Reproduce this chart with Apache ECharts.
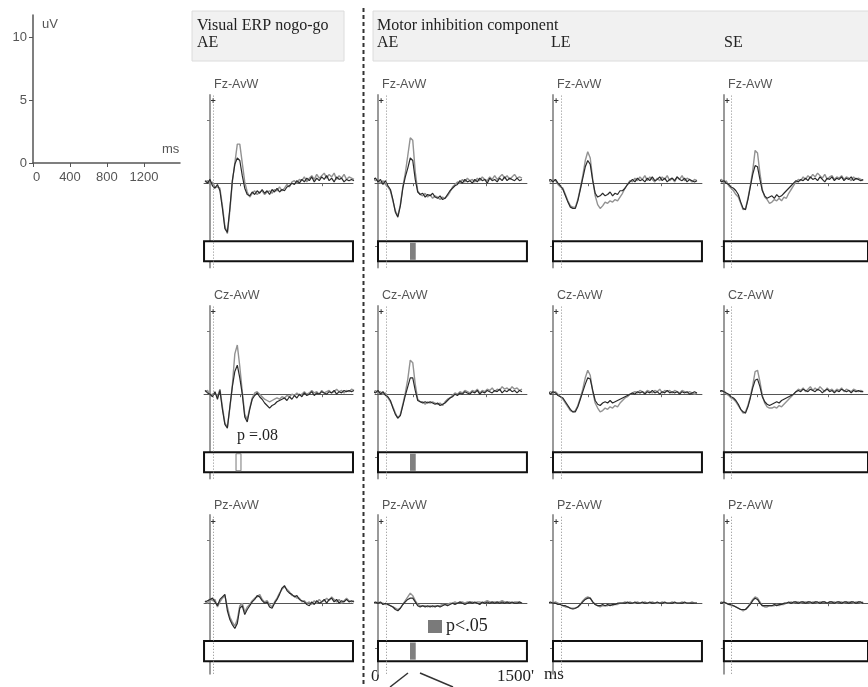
<!DOCTYPE html>
<html><head><meta charset="utf-8">
<script src="https://cdn.jsdelivr.net/npm/echarts@6/dist/echarts.min.js"></script>
<style>html,body{margin:0;padding:0;background:#fff}#chart{width:868px;height:687px}</style>
</head><body><div id="chart"></div>
<script>
// ---- data ----
const times = [-50,-25,0,25,50,75,100,125,150,175,200,225,250,275,300,325,350,375,400,425,450,475,500,525,550,575,600,625,650,675,700,725,750,775,800,825,850,875,900,925,950,975,1000,1025,1050,1075,1100,1125,1150,1175,1200,1225,1250,1275,1300,1325,1350,1375,1400,1425,1450];
const channelTitles = ['Fz-AvW','Cz-AvW','Pz-AvW'];
const columnHeaders = ['AE','AE','LE','SE'];
const scaleYTicks = [0,5,10];
const scaleXTicks = [0,400,800,1200];

// Fz
const fzVisualDark = [0.2,0.0,0.3,-0.2,-0.4,-0.1,-0.6,-2.0,-3.6,-3.9, -2.0,0.2,1.5,2.0,1.8,0.6,-0.4,-0.9,-1.0,-0.7, -0.9,-0.6,-0.8,-0.5,-0.8,-0.6,-0.9,-0.5,-0.7,-0.4, -0.7,-0.5,-0.6,-0.3,-0.2,0.0,-0.1,0.2,0.0,0.3, 0.1,0.4,0.2,0.5,0.1,0.4,0.2,0.5,0.3,0.6, 0.2,0.4,0.1,0.5,0.3,0.4,0.1,0.3,0.2,0.3, 0.2];
const fzVisualLight = [0.1,0.2,-0.1,0.1,-0.3,-0.3,-0.4,-1.8,-3.4,-4.0, -2.2,0.1,1.6,3.1,3.1,1.6,0.1,-0.7,-1.1,-0.8, -0.6,-0.9,-0.7,-0.6,-0.9,-0.7,-0.6,-0.8,-0.5,-0.6, -0.3,-0.6,-0.4,-0.1,-0.3,0.1,0.2,0.0,0.3,0.2, 0.5,0.1,0.4,0.6,0.3,0.7,0.4,0.6,0.8,0.4, 0.7,0.5,0.8,0.3,0.6,0.4,0.7,0.3,0.5,0.4, 0.3];
const fzAEDark = [0.3,0.4,0.1,0.3,-0.1,0.2,-0.2,-0.5,-1.3,-2.3, -2.7,-1.8,-0.4,0.5,1.2,2.0,1.8,0.3,-0.7,-0.9, -0.8,-1.1,-0.9,-1.0,-0.8,-1.1,-1.2,-1.0,-1.3,-1.2, -0.9,-0.6,-0.4,-0.2,-0.1,0.2,0.0,0.3,0.1,0.2, 0.0,0.3,0.1,0.4,0.2,0.3,0.0,0.4,0.2,0.3, 0.1,0.4,0.2,0.5,0.2,0.4,0.3,0.2,0.4,0.2, 0.3];
const fzAELight = [0.4,0.2,0.3,0.0,0.2,-0.1,-0.3,-0.6,-1.4,-2.2, -2.6,-1.7,-0.3,0.8,2.2,3.6,3.4,0.9,-0.6,-0.9, -1.0,-0.8,-1.1,-0.9,-1.2,-1.0,-1.1,-1.3,-1.1,-1.2, -1.0,-0.7,-0.3,-0.1,0.1,0.0,0.3,0.1,0.4,0.2, 0.3,0.1,0.4,0.2,0.5,0.3,0.2,0.5,0.3,0.6, 0.3,0.5,0.7,0.4,0.6,0.3,0.5,0.7,0.4,0.5, 0.4];
const fzLEDark = [0.2,0.3,0.1,0.3,0.0,-0.2,-0.5,-1.0,-1.5,-1.9, -2.0,-2.0,-1.4,-0.5,0.4,1.3,1.8,1.5,0.2,-0.8, -1.1,-1.0,-0.8,-1.0,-0.9,-0.7,-1.0,-0.8,-0.9,-0.6, -0.6,-0.4,-0.1,0.1,0.3,0.1,0.4,0.2,0.3,0.1, 0.4,0.2,0.5,0.2,0.3,0.5,0.2,0.4,0.1,0.3, 0.4,0.2,0.5,0.3,0.2,0.4,0.1,0.3,0.2,0.1, 0.2];
const fzLELight = [0.3,0.1,0.3,0.2,-0.1,-0.3,-0.4,-0.9,-1.4,-1.8, -1.9,-1.9,-1.3,-0.4,0.6,1.8,2.5,2.0,0.3,-1.0, -1.7,-2.0,-1.8,-1.5,-1.6,-1.4,-1.5,-1.3,-1.4,-1.1, -0.8,-0.4,-0.1,0.2,0.1,0.4,0.2,0.5,0.3,0.6, 0.2,0.5,0.3,0.1,0.4,0.2,0.5,0.3,0.6,0.2, 0.4,0.1,0.5,0.3,0.6,0.2,0.4,0.3,0.1,0.3, 0.2];
const fzSEDark = [0.3,0.1,0.2,0.0,-0.1,-0.3,-0.4,-0.6,-0.9,-1.5, -2.0,-2.1,-1.3,-0.3,0.7,1.4,1.3,0.3,-0.6,-1.0, -1.2,-1.1,-1.0,-1.2,-0.9,-1.1,-1.0,-0.8,-0.6,-0.4, -0.2,0.0,0.2,0.1,0.3,0.2,0.4,0.2,0.5,0.3, 0.4,0.2,0.5,0.3,0.1,0.4,0.3,0.5,0.2,0.4, 0.3,0.5,0.2,0.4,0.3,0.5,0.2,0.4,0.3,0.2, 0.3];
const fzSELight = [0.2,0.3,0.0,0.2,-0.2,-0.4,-0.6,-0.9,-1.1,-1.6, -2.1,-2.0,-1.2,-0.2,1.0,2.6,2.4,0.8,-0.5,-1.1, -1.3,-1.6,-1.5,-1.3,-1.4,-1.2,-1.4,-1.1,-1.2,-0.8, -0.5,-0.2,0.1,0.3,0.2,0.5,0.3,0.6,0.4,0.7, 0.5,0.8,0.6,0.4,0.7,0.3,0.5,0.6,0.3,0.5, 0.4,0.6,0.3,0.5,0.4,0.2,0.5,0.3,0.4,0.3, 0.2];
// Cz
const czVisualDark = [0.3,0.1,0.0,-0.2,0.2,-0.4,0.3,-1.2,-2.4,-2.7, -1.0,0.6,1.8,2.3,1.3,0.0,-1.8,-2.2,-1.2,-0.4, -0.1,0.1,-0.2,-0.4,-0.7,-0.9,-1.1,-0.9,-0.8,-0.6, -0.5,-0.4,-0.3,-0.5,-0.2,-0.4,-0.1,-0.3,0.0,-0.2, 0.1,-0.1,0.0,0.2,-0.1,0.1,0.0,0.2,0.1,0.0, 0.2,0.1,0.3,0.0,0.2,0.1,0.3,0.2,0.3,0.2, 0.3];
const czVisualLight = [0.2,0.3,-0.1,0.0,0.1,-0.2,0.4,-1.0,-2.3,-2.6, -1.1,0.7,3.2,3.9,2.2,0.2,-1.6,-2.0,-1.1,-0.3, 0.1,0.2,0.0,-0.2,-0.4,-0.5,-0.6,-0.5,-0.4,-0.3, -0.4,-0.2,-0.3,-0.1,-0.2,0.0,-0.1,0.1,-0.1,0.0, 0.2,0.0,0.1,0.3,0.1,0.2,0.0,0.3,0.1,0.2, 0.3,0.1,0.2,0.4,0.2,0.3,0.1,0.3,0.2,0.4, 0.3];
const czAEDark = [0.2,0.1,0.3,0.0,0.2,-0.1,-0.2,-0.5,-1.1,-1.6, -1.9,-1.7,-0.9,-0.1,0.6,1.3,1.3,0.3,-0.5,-0.6, -0.7,-0.6,-0.7,-0.6,-0.7,-0.8,-0.7,-0.9,-0.8,-0.7, -0.5,-0.3,-0.2,0.0,-0.1,0.1,0.0,0.2,0.1,0.0, 0.2,0.1,0.3,0.0,0.2,0.1,0.3,0.2,0.1,0.3, 0.2,0.4,0.1,0.3,0.2,0.4,0.2,0.3,0.1,0.3, 0.2];
const czAELight = [0.1,0.3,0.1,0.2,0.0,0.1,-0.3,-0.6,-1.0,-1.5, -1.9,-1.6,-0.8,0.1,1.2,2.7,2.5,0.8,-0.4,-0.6, -0.6,-0.8,-0.6,-0.7,-0.6,-0.7,-0.8,-0.7,-0.9,-0.6, -0.4,-0.3,-0.1,0.1,0.0,0.2,0.1,0.3,0.2,0.1, 0.3,0.2,0.4,0.1,0.3,0.2,0.4,0.3,0.5,0.2, 0.4,0.3,0.6,0.4,0.5,0.3,0.6,0.4,0.5,0.3, 0.4];
const czLEDark = [0.2,0.0,0.2,0.1,-0.1,-0.2,-0.3,-0.6,-0.9,-1.2, -1.4,-1.4,-1.0,-0.4,0.2,0.8,1.3,1.2,0.3,-0.5, -0.8,-0.9,-0.7,-0.6,-0.7,-0.5,-0.7,-0.6,-0.5,-0.4, -0.3,-0.2,-0.1,0.0,0.1,0.0,0.2,0.1,0.2,0.0, 0.2,0.1,0.3,0.1,0.2,0.0,0.2,0.1,0.3,0.1, 0.2,0.1,0.2,0.0,0.2,0.1,0.2,0.0,0.1,0.2, 0.1];
const czLELight = [0.1,0.2,0.1,0.2,0.0,-0.2,-0.4,-0.7,-1.0,-1.3, -1.4,-1.3,-0.9,-0.3,0.4,1.3,1.9,1.5,0.2,-0.7, -1.1,-1.4,-1.3,-1.1,-1.2,-1.0,-1.1,-0.9,-1.0,-0.7, -0.5,-0.3,-0.2,0.0,0.1,0.2,0.1,0.3,0.2,0.1, 0.3,0.2,0.1,0.3,0.2,0.4,0.1,0.3,0.2,0.3, 0.1,0.3,0.2,0.1,0.3,0.2,0.1,0.2,0.1,0.0, 0.1];
const czSEDark = [0.2,0.3,0.2,0.1,0.0,-0.2,-0.3,-0.5,-0.8,-1.2, -1.4,-1.5,-1.0,-0.3,0.5,1.1,1.2,0.6,-0.2,-0.6, -0.8,-0.9,-0.8,-0.7,-0.6,-0.7,-0.5,-0.4,-0.3,-0.2, -0.1,0.0,0.2,0.3,0.2,0.4,0.3,0.2,0.4,0.3, 0.2,0.4,0.3,0.1,0.3,0.4,0.2,0.3,0.1,0.3, 0.2,0.4,0.3,0.2,0.3,0.1,0.3,0.2,0.3,0.2, 0.2];
const czSELight = [0.3,0.2,0.3,0.0,-0.1,-0.3,-0.4,-0.6,-0.9,-1.2, -1.5,-1.4,-0.9,-0.2,0.7,1.8,1.9,1.0,-0.1,-0.7, -1.0,-1.1,-1.1,-1.0,-1.1,-0.9,-1.0,-0.8,-0.6,-0.4, -0.2,0.0,0.2,0.4,0.3,0.5,0.2,0.4,0.6,0.3, 0.5,0.3,0.6,0.4,0.2,0.5,0.3,0.4,0.2,0.4, 0.3,0.5,0.2,0.4,0.3,0.2,0.4,0.3,0.2,0.3, 0.2];
// Pz
const pzVisualDark = [0.1,0.2,0.3,0.4,0.1,-0.2,0.3,0.5,0.7,-0.6, -1.3,-1.7,-2.0,-1.6,-0.4,-0.2,-0.9,-0.5,-0.2,0.1, 0.3,0.6,0.5,0.2,0.0,0.1,-0.3,-0.4,0.0,0.3, 0.7,1.2,1.4,1.0,0.8,0.7,0.5,0.6,0.3,0.2, 0.1,-0.1,-0.2,0.1,-0.1,0.2,0.0,0.1,0.3,0.0, 0.3,0.4,0.1,0.3,0.0,0.2,0.1,0.3,0.1,0.2, 0.1];
const pzVisualLight = [0.2,0.0,0.4,0.2,0.3,-0.3,0.1,0.4,0.6,-0.3, -1.1,-1.5,-1.8,-1.3,-0.2,0.0,-0.7,-0.3,-0.1,0.2, 0.4,0.5,0.7,0.3,0.1,0.2,-0.1,-0.3,0.1,0.4, 0.8,1.1,1.3,1.1,0.9,0.6,0.6,0.4,0.4,0.1, 0.2,0.0,0.1,-0.1,0.2,0.0,0.3,0.1,0.2,0.4, 0.2,0.5,0.3,0.1,0.3,0.0,0.2,0.4,0.2,0.1, 0.2];
const pzAEDark = [0.0,0.1,0.0,0.1,-0.1,0.0,-0.1,-0.2,-0.3,-0.5, -0.6,-0.4,-0.1,0.1,0.3,0.4,0.4,0.1,-0.2,-0.3, -0.2,-0.3,-0.2,-0.3,-0.2,-0.3,-0.2,-0.3,-0.2,-0.1, -0.2,-0.1,0.0,-0.1,0.0,0.1,0.0,-0.1,0.0,0.1, 0.0,0.1,0.0,-0.1,0.1,0.0,0.1,0.0,0.1,0.0, 0.1,0.0,0.1,0.0,0.1,0.0,0.1,0.0,0.0,0.1, 0.0];
const pzAELight = [0.1,0.0,0.1,0.0,0.0,-0.1,-0.1,-0.2,-0.3,-0.4, -0.5,-0.4,-0.1,0.2,0.5,0.8,0.6,0.2,-0.1,-0.2, -0.2,-0.2,-0.3,-0.2,-0.3,-0.2,-0.2,-0.2,-0.1,-0.1, -0.1,0.0,0.0,0.1,0.0,0.1,0.1,0.0,0.1,0.1, 0.1,0.0,0.1,0.1,0.0,0.1,0.2,0.1,0.1,0.1, 0.1,0.1,0.2,0.1,0.1,0.1,0.0,0.1,0.1,0.1, 0.0];
const pzLEDark = [0.0,0.1,0.0,0.0,-0.1,-0.1,-0.2,-0.2,-0.3,-0.4, -0.4,-0.4,-0.3,-0.1,0.1,0.3,0.4,0.4,0.1,-0.1, -0.2,-0.2,-0.1,-0.2,-0.1,-0.2,-0.1,-0.1,0.0,0.0, 0.0,0.0,0.1,0.0,0.0,0.1,0.0,0.0,0.1,0.0, 0.0,0.1,0.0,0.0,0.1,0.0,0.0,0.1,0.0,0.0, 0.0,0.1,0.0,0.0,0.0,0.1,0.0,0.0,0.0,0.0, 0.0];
const pzLELight = [0.1,0.0,0.0,0.1,0.0,-0.1,-0.2,-0.3,-0.3,-0.4, -0.5,-0.4,-0.3,-0.1,0.2,0.4,0.5,0.4,0.1,-0.1, -0.2,-0.3,-0.2,-0.2,-0.2,-0.1,-0.2,-0.1,-0.1,0.0, 0.0,0.1,0.0,0.1,0.0,0.0,0.1,0.0,0.0,0.1, 0.0,0.0,0.1,0.0,0.0,0.0,0.1,0.0,0.0,0.0, 0.1,0.0,0.0,0.0,0.1,0.0,0.0,0.0,0.1,0.0, 0.0];
const pzSEDark = [0.0,0.0,0.1,0.0,-0.1,-0.1,-0.2,-0.3,-0.4,-0.5, -0.5,-0.5,-0.3,-0.1,0.2,0.4,0.3,0.0,-0.2,-0.2, -0.2,-0.2,-0.2,-0.1,-0.2,-0.1,-0.1,0.0,0.0,0.1, 0.0,0.1,0.1,0.0,0.1,0.1,0.0,0.1,0.1,0.0, 0.1,0.1,0.0,0.1,0.1,0.0,0.1,0.1,0.0,0.1, 0.1,0.0,0.1,0.1,0.0,0.1,0.1,0.0,0.1,0.1, 0.0];
const pzSELight = [0.0,0.1,0.0,0.0,-0.1,-0.2,-0.2,-0.3,-0.4,-0.5, -0.6,-0.5,-0.3,0.0,0.3,0.5,0.4,0.1,-0.2,-0.3, -0.3,-0.2,-0.2,-0.2,-0.1,-0.2,-0.1,-0.1,0.0,0.0, 0.1,0.0,0.1,0.1,0.0,0.1,0.1,0.1,0.0,0.1, 0.1,0.0,0.1,0.1,0.1,0.0,0.1,0.1,0.1,0.0, 0.1,0.1,0.0,0.1,0.1,0.1,0.0,0.1,0.1,0.0, 0.1];

// significance windows (ms)
const sigWindowAE = [322, 380];     // p<.05
const trendWindowCz = [262, 312];   // p=.08

const panelData = [
  [[fzVisualDark, fzVisualLight], [fzAEDark, fzAELight], [fzLEDark, fzLELight], [fzSEDark, fzSELight]],
  [[czVisualDark, czVisualLight], [czAEDark, czAELight], [czLEDark, czLELight], [czSEDark, czSELight]],
  [[pzVisualDark, pzVisualLight], [pzAEDark, pzAELight], [pzLEDark, pzLELight], [pzSEDark, pzSELight]]
];

// ---- layout ----
const PX_MS = 0.0993, PX_UV = 12.6;
const colAxisX = [210, 378, 553, 724];
const colXMin = [-60, -30, -30, -30];
const colXMax = [1440, 1500, 1500, 1500];
const colBox = [[-60, 1440], [0, 1500], [0, 1500], [0, 1500]];
const colOnset = [35, 80, 80, 80];
const colXTicks = [[300, 1130], [350, 1090], [350, 1090], [350, 1090]];
const rowTop = [95, 306, 515];
const rowYMin = [-6.7, -6.7, -5.6];
const rowBoxY = [[-4.6, -6.2], [-4.6, -6.2], [-3.0, -4.6]];
const rowYTicks = [[5, -5], [5, -5], [5, -3.6]];
const rowTitleY = [85, 296, 506];
const Y_MAX = 7;

const grids = [], xAxes = [], yAxes = [], series = [], graphics = [];

for (let r = 0; r < 3; r++) {
  for (let c = 0; c < 4; c++) {
    const gi = grids.length;
    const left = colAxisX[c] + colXMin[c] * PX_MS;
    grids.push({left: left, top: rowTop[r], width: (colXMax[c] - colXMin[c]) * PX_MS, height: (Y_MAX - rowYMin[r]) * PX_UV});
    xAxes.push({type: 'value', gridIndex: gi, min: colXMin[c], max: colXMax[c],
      axisLine: {onZero: true, lineStyle: {color: '#555', width: 1}},
      axisTick: {show: true, customValues: colXTicks[c], length: 3, lineStyle: {color: '#666'}},
      axisLabel: {show: false}, splitLine: {show: false}});
    yAxes.push({type: 'value', gridIndex: gi, min: rowYMin[r], max: Y_MAX,
      axisLine: {onZero: true, lineStyle: {color: '#9a9a9a', width: 2}},
      axisTick: {show: true, customValues: rowYTicks[r], length: 3, lineStyle: {color: '#777'}},
      axisLabel: {show: false}, splitLine: {show: false}});
    const [dark, light] = panelData[r][c];
    const by = rowBoxY[r];
    const areas = [[{xAxis: colBox[c][0], yAxis: by[0], itemStyle: {color: '#fff', borderColor: '#111', borderWidth: 2}}, {xAxis: colBox[c][1], yAxis: by[1]}]];
    if (c === 1) {
      areas.push([{xAxis: sigWindowAE[0], yAxis: by[0] - 0.12, itemStyle: {color: '#808080', borderWidth: 0}}, {xAxis: sigWindowAE[1], yAxis: by[1] + 0.12}]);
    }
    if (c === 0 && r === 1) {
      areas.push([{xAxis: trendWindowCz[0], yAxis: by[0] - 0.12, itemStyle: {color: '#fff', borderColor: '#777', borderWidth: 1}}, {xAxis: trendWindowCz[1], yAxis: by[1] + 0.12}]);
    }
    series.push({type: 'line', xAxisIndex: gi, yAxisIndex: gi, data: times.map((t, i) => [t, light[i]]),
      symbol: 'none', lineStyle: {color: '#929292', width: 1.4}, silent: true, z: 2,
      markArea: {silent: true, data: areas},
      markLine: {silent: true, symbol: 'none', label: {show: false}, lineStyle: {type: [1, 2], color: '#8a8a8a', width: 1}, data: [{xAxis: colOnset[c]}]}});
    series.push({type: 'line', xAxisIndex: gi, yAxisIndex: gi, data: times.map((t, i) => [t, dark[i]]),
      symbol: 'none', lineStyle: {color: '#2a2a2a', width: 1.2}, silent: true, z: 3});
    graphics.push({type: 'text', left: colAxisX[c] + 4, top: rowTitleY[r] - 7,
      style: {text: channelTitles[r], font: '12.5px "Liberation Sans", Arial, sans-serif', fill: '#555'}});
    graphics.push({type: 'text', left: colAxisX[c] + 0.5, top: rowTitleY[r] + 12,
      style: {text: '+', font: 'bold 9px "Liberation Sans", Arial, sans-serif', fill: '#333'}});
  }
}

// scale panel
const sg = grids.length;
grids.push({left: 33, top: 15, width: 147, height: 148});
xAxes.push({type: 'value', gridIndex: sg, min: 0, max: 1590,
  axisLine: {lineStyle: {color: '#555', width: 1.5}},
  axisTick: {customValues: scaleXTicks, length: 4, lineStyle: {color: '#555'}},
  axisLabel: {customValues: scaleXTicks, formatter: v => String(v), color: '#555', fontSize: 13, fontFamily: '"Liberation Sans", Arial, sans-serif', margin: 8, alignMinLabel: 'left'},
  splitLine: {show: false}});
yAxes.push({type: 'value', gridIndex: sg, min: 0, max: 11.75,
  axisLine: {lineStyle: {color: '#555', width: 1.5}},
  axisTick: {customValues: scaleYTicks, length: 4, lineStyle: {color: '#555'}},
  axisLabel: {customValues: scaleYTicks, formatter: v => String(v), color: '#555', fontSize: 13, fontFamily: '"Liberation Sans", Arial, sans-serif', margin: 6},
  splitLine: {show: false}});

const sans = '"Liberation Sans", Arial, sans-serif';
const serif = '"Liberation Serif", "Times New Roman", serif';
graphics.push(
  {type: 'text', left: 42, top: 18, style: {text: 'uV', font: '13px ' + sans, fill: '#555'}},
  {type: 'text', left: 162, top: 143, style: {text: 'ms', font: '13px ' + sans, fill: '#555'}},
  {type: 'rect', shape: {x: 192, y: 11, width: 152, height: 50}, style: {fill: '#f1f1f1', stroke: '#dcdcdc', lineWidth: 1}, z: -1},
  {type: 'rect', shape: {x: 373, y: 11, width: 500, height: 50}, style: {fill: '#f1f1f1', stroke: '#dcdcdc', lineWidth: 1}, z: -1},
  {type: 'text', left: 197, top: 18, style: {text: 'Visual ERP nogo-go', font: '16px ' + serif, fill: '#222'}},
  {type: 'text', left: 197, top: 35, style: {text: columnHeaders[0], font: '16px ' + serif, fill: '#222'}},
  {type: 'text', left: 377, top: 18, style: {text: 'Motor inhibition component', font: '16px ' + serif, fill: '#222'}},
  {type: 'text', left: 377, top: 35, style: {text: columnHeaders[1], font: '16px ' + serif, fill: '#222'}},
  {type: 'text', left: 551, top: 35, style: {text: columnHeaders[2], font: '16px ' + serif, fill: '#222'}},
  {type: 'text', left: 724, top: 35, style: {text: columnHeaders[3], font: '16px ' + serif, fill: '#222'}},
  {type: 'line', shape: {x1: 363.5, y1: 8, x2: 363.5, y2: 687}, style: {stroke: '#333', lineWidth: 2, lineDash: [4, 3]}},
  {type: 'text', left: 237, top: 428, style: {text: 'p =.08', font: '16px ' + serif, fill: '#222'}},
  {type: 'rect', shape: {x: 428, y: 620, width: 14, height: 13}, style: {fill: '#7a7a7a'}},
  {type: 'text', left: 446, top: 617, style: {text: 'p<.05', font: '18px ' + serif, fill: '#222'}},
  {type: 'text', left: 371, top: 668, style: {text: '0', font: '17px ' + serif, fill: '#222'}},
  {type: 'text', left: 497, top: 668, style: {text: "1500'", font: '17px ' + serif, fill: '#222'}},
  {type: 'text', left: 544, top: 666, style: {text: 'ms', font: '17px ' + serif, fill: '#222'}},
  {type: 'line', shape: {x1: 390, y1: 687, x2: 408, y2: 673}, style: {stroke: '#333', lineWidth: 1.5}},
  {type: 'line', shape: {x1: 420, y1: 673, x2: 453, y2: 687}, style: {stroke: '#333', lineWidth: 1.5}}
);

const chart = echarts.init(document.getElementById('chart'), null, {renderer: 'canvas'});
chart.setOption({
  animation: false,
  backgroundColor: '#fff',
  grid: grids, xAxis: xAxes, yAxis: yAxes, series: series,
  graphic: {elements: graphics}
});
</script></body></html>
